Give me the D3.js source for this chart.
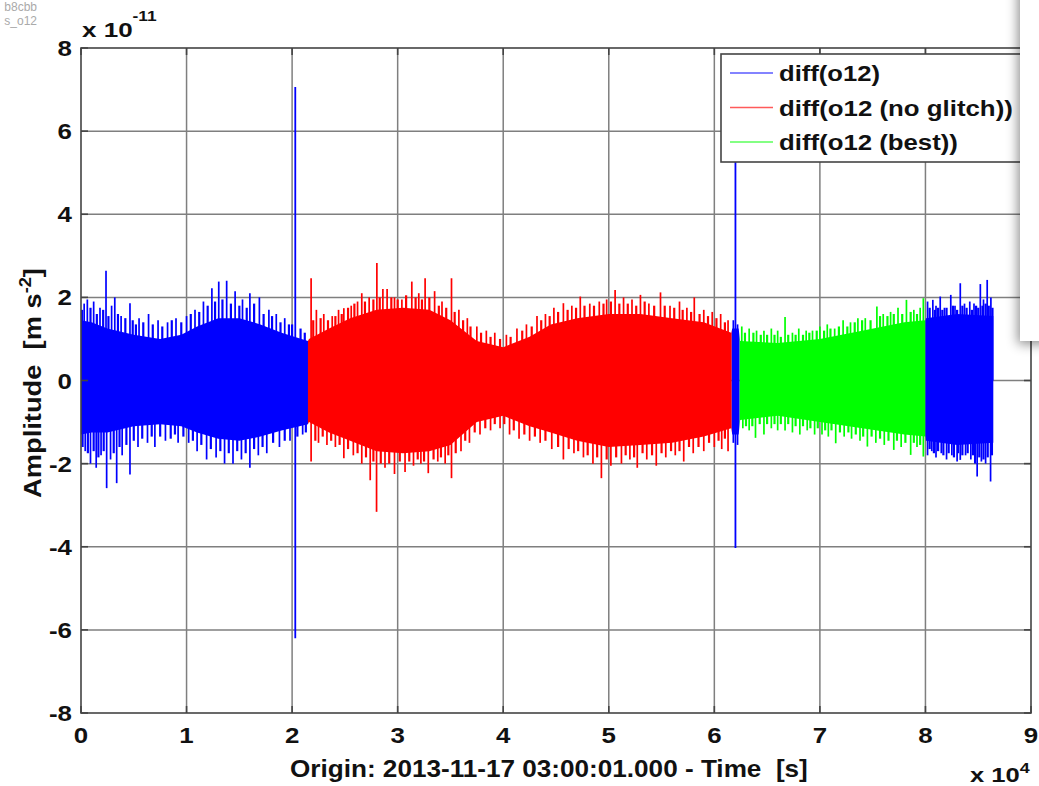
<!DOCTYPE html>
<html>
<head>
<meta charset="utf-8">
<script src="https://cdn.jsdelivr.net/npm/d3@7"></script>
<style>
  body { margin: 0; background: #fff; }
  text { font-family: "Liberation Sans", Arial, sans-serif; white-space: pre; }
</style>
</head>
<body>
<div id="chart"></div>
<script>
// series shown in the legend
const seriesNames = ["diff(o12)", "diff(o12 (no glitch))", "diff(o12 (best))"];

// which series is drawn over each time span [s]
const spanStart = [0, 21500, 61650, 62400, 80000];
const spanEnd = [21500, 61650, 62400, 80000, 86450];
const spanSeries = [0, 1, 0, 2, 0];

// dense body of the noise (units of 1e-11 m s^-2)
const envTime = [0, 1000, 2500, 5000, 7500, 9500, 11000, 13000, 15000, 17000, 19000, 21500,
  21600, 23500, 25500, 28000, 30500, 33000, 35000, 37500, 40000, 42500, 44500, 47000, 50000,
  53000, 56000, 59000, 61600, 61700, 62300, 62450, 66000, 70000, 74000, 78000, 80000,
  80050, 83000, 86450];
const envHi = [1.45, 1.4, 1.25, 1.1, 1.0, 1.1, 1.3, 1.5, 1.5, 1.35, 1.15, 0.95,
  1.0, 1.25, 1.5, 1.7, 1.75, 1.7, 1.45, 0.95, 0.8, 1.05, 1.35, 1.5, 1.6,
  1.6, 1.5, 1.4, 1.15, 1.25, 1.25, 0.95, 0.9, 1.0, 1.2, 1.4, 1.45,
  1.5, 1.6, 1.55];
const envLo = [-1.3, -1.25, -1.25, -1.1, -1.05, -1.1, -1.25, -1.4, -1.45, -1.35, -1.2, -1.05,
  -1.0, -1.25, -1.45, -1.7, -1.75, -1.7, -1.55, -1.0, -0.85, -1.1, -1.25, -1.45, -1.6,
  -1.55, -1.5, -1.35, -1.15, -1.3, -1.3, -0.95, -0.85, -1.0, -1.15, -1.3, -1.35,
  -1.45, -1.55, -1.5];

// tallest single samples sticking out of the body: [time, value]
const spikesUp = [
  [300, 1.85], [600, 1.95], [1200, 1.9], [1800, 1.75], [2370, 2.64], [2900, 1.8], [3200, 2.0],
  [3800, 1.55], [4640, 1.86], [5500, 1.5], [6400, 1.6], [7300, 1.45], [8200, 1.4], [9000, 1.5],
  [10000, 1.55], [10800, 1.7], [11600, 1.9], [12400, 2.22], [13050, 2.38], [13800, 2.4],
  [14600, 2.15], [15300, 1.95], [16000, 2.1], [16900, 2.0], [17800, 1.7], [18500, 1.6], [19300, 1.5],
  [21800, 2.46], [22300, 1.7], [23000, 1.6], [23800, 1.55], [24400, 1.7], [24900, 1.74],
  [25600, 1.8], [26200, 1.9], [26600, 2.1], [27300, 2.0], [28030, 2.83], [28600, 2.2], [29000, 2.2],
  [29700, 2.0], [30400, 1.95], [31340, 2.38], [32000, 2.1], [32600, 2.46], [33500, 2.15],
  [34200, 1.9], [35100, 2.46], [35800, 1.7], [36600, 1.5], [37500, 1.3], [38400, 1.2], [39200, 1.15],
  [40300, 1.1], [41300, 1.25], [42200, 1.35], [43200, 1.55], [44000, 1.6], [44800, 1.75],
  [45700, 1.86], [46500, 1.8], [47300, 2.02], [48200, 1.85], [49100, 1.9], [49800, 1.95],
  [50600, 2.18], [51400, 2.0], [52200, 1.95], [53000, 2.06], [53800, 1.85], [54900, 2.12],
  [55800, 1.8], [56700, 1.9], [57400, 1.75], [58100, 2.0], [59000, 1.7], [59800, 1.65],
  [60600, 1.6], [61300, 1.45], [61800, 1.45], [62200, 1.35],
  [62600, 1.3], [63300, 1.25], [64000, 1.2], [64700, 1.2], [65400, 1.25], [66000, 1.2],
  [66700, 1.53], [67400, 1.15], [68000, 1.25], [68700, 1.2], [69300, 1.2], [70000, 1.3],
  [70700, 1.35], [71400, 1.25], [72200, 1.45], [72900, 1.4], [73600, 1.5], [74300, 1.5],
  [75400, 1.78], [76000, 1.6], [76700, 1.65], [77400, 1.75], [78200, 1.94], [78900, 1.7],
  [79500, 1.75], [79800, 1.98],
  [80200, 1.9], [80700, 1.94], [81000, 1.8], [81400, 2.02], [81800, 1.75], [82400, 2.06],
  [82800, 1.8], [83300, 2.34], [83700, 1.85], [84200, 1.9], [84600, 1.85], [85200, 2.32],
  [85500, 1.95], [85850, 2.42], [86200, 2.0]
];
const spikesDown = [
  [400, -1.7], [900, -2.0], [1440, -2.1], [1900, -1.8], [2430, -2.59], [2800, -1.9], [3380, -2.47],
  [3900, -1.8], [4640, -2.26], [5400, -1.6], [6300, -1.5], [7000, -1.6], [8000, -1.45],
  [9200, -1.5], [10200, -1.5], [11000, -1.7], [11900, -1.9], [12800, -1.85], [13600, -2.0],
  [14400, -2.0], [15200, -1.9], [16000, -2.1], [16800, -1.8], [17600, -1.75], [18800, -1.6],
  [19800, -1.45], [21000, -1.3],
  [21800, -1.95], [22500, -1.5], [23300, -1.55], [24100, -1.6], [24900, -1.87], [25800, -1.8],
  [26600, -2.0], [27400, -2.4], [28000, -3.16], [28800, -2.1], [29700, -2.25], [30700, -2.2],
  [31500, -2.05], [32200, -2.0], [32900, -2.23], [33800, -1.95], [34500, -2.0], [35100, -2.35],
  [36000, -1.7], [36800, -1.5], [37800, -1.3], [38800, -1.2], [39700, -1.15], [40600, -1.3],
  [41500, -1.4], [42500, -1.45], [43500, -1.5], [44600, -1.65], [45700, -1.9], [46700, -1.75],
  [47600, -1.85], [48500, -2.0], [49300, -2.35], [50200, -2.05], [51200, -2.0], [52000, -1.9],
  [52700, -2.1], [53600, -1.9], [54500, -2.05], [55400, -1.85], [56300, -1.8], [57100, -1.95],
  [58000, -1.75], [59000, -1.7], [60000, -1.6], [60700, -1.65], [61300, -1.7],
  [61800, -1.5], [62200, -1.55],
  [62700, -1.15], [63300, -1.2], [63900, -1.38], [64700, -1.3], [65400, -1.15], [66000, -1.2],
  [66700, -1.2], [67400, -1.25], [68100, -1.3], [68800, -1.2], [69500, -1.3], [70200, -1.3],
  [70800, -1.35], [71500, -1.51], [72300, -1.35], [73000, -1.4], [73800, -1.45], [74500, -1.59],
  [75300, -1.5], [76100, -1.55], [77000, -1.67], [77700, -1.6], [78600, -1.79], [79200, -1.6],
  [79800, -1.83],
  [80200, -1.8], [80600, -1.7], [81000, -1.85], [81500, -1.75], [82000, -1.9], [82500, -1.8],
  [83000, -1.95], [83300, -1.91], [83800, -1.8], [84300, -1.9], [84900, -2.31], [85300, -1.95],
  [85700, -2.0], [86170, -2.43]
];

// shorter samples that make the ragged edge of the body: [time, value]
const minorUp = [
  [100, 1.7], [900, 1.75], [1500, 1.6], [2100, 1.7], [2600, 1.55], [3500, 1.6], [4200, 1.5],
  [4900, 1.45], [5200, 1.35], [5900, 1.4], [6800, 1.35], [7700, 1.3], [8600, 1.45], [9500, 1.4],
  [10400, 1.6], [11200, 1.65], [12000, 1.8], [12700, 1.9], [13400, 1.95], [14200, 1.85],
  [15000, 1.8], [15700, 1.75], [16400, 1.85], [17300, 1.6], [18100, 1.55], [18900, 1.4],
  [19700, 1.35], [20000, 1.35], [20800, 1.25], [21200, 1.15],
  [22000, 1.45], [22700, 1.5], [23400, 1.45], [24100, 1.55], [24700, 1.6], [25300, 1.75],
  [25900, 1.85], [26900, 1.9], [27700, 1.95], [28300, 2.0], [29400, 2.0], [30000, 1.95],
  [30800, 2.05], [31700, 2.0], [32300, 1.95], [33000, 2.0], [33900, 1.8], [34600, 1.75],
  [35400, 1.65], [36200, 1.45], [36900, 1.3], [37900, 1.15], [38800, 1.05], [39700, 1.0],
  [40700, 1.05], [41800, 1.2], [42700, 1.3], [43600, 1.45], [44400, 1.55], [45200, 1.65],
  [46100, 1.7], [46900, 1.75], [47700, 1.8], [48600, 1.8], [49500, 1.85], [50200, 1.9],
  [51000, 1.85], [51800, 1.85], [52600, 1.8], [53400, 1.9], [54300, 1.8], [55300, 1.8],
  [56200, 1.75], [57000, 1.7], [57800, 1.65], [58600, 1.6], [59400, 1.55], [60200, 1.5],
  [61000, 1.4],
  [62900, 1.15], [63700, 1.15], [64400, 1.1], [65000, 1.1], [65700, 1.1], [66300, 1.05],
  [67000, 1.1], [67700, 1.1], [68400, 1.1], [69000, 1.15], [69700, 1.2], [70400, 1.2],
  [71000, 1.25], [71800, 1.3], [72600, 1.3], [73300, 1.4], [74000, 1.45], [74800, 1.45],
  [75700, 1.55], [76400, 1.55], [77000, 1.6], [77800, 1.6], [78600, 1.65], [79200, 1.6],
  [80400, 1.75], [80900, 1.7], [81200, 1.75], [81600, 1.7], [82000, 1.75], [82600, 1.8],
  [83000, 1.7], [83500, 1.8], [83900, 1.75], [84400, 1.7], [84800, 1.8], [85000, 1.75],
  [85400, 1.8], [85700, 1.85], [86000, 1.8], [86350, 1.75]
];
const minorDown = [
  [150, -1.6], [650, -1.75], [1200, -1.7], [1650, -1.85], [2150, -1.7], [3100, -1.75],
  [3650, -1.6], [4300, -1.55], [5000, -1.45], [5800, -1.4], [6700, -1.35], [7500, -1.35],
  [8500, -1.4], [8900, -1.3], [9700, -1.35], [10600, -1.45], [11400, -1.55], [12300, -1.65],
  [13200, -1.7], [14000, -1.75], [14800, -1.7], [15600, -1.75], [16400, -1.65], [17200, -1.6],
  [18200, -1.5], [19300, -1.45], [20500, -1.35], [21300, -1.25],
  [22200, -1.45], [22900, -1.35], [23700, -1.45], [24500, -1.55], [25300, -1.65], [26200, -1.75],
  [27000, -1.85], [27700, -1.95], [28400, -2.0], [29200, -2.0], [30200, -1.95], [31100, -1.95],
  [31900, -1.9], [32500, -1.95], [33400, -1.9], [34100, -1.85], [34800, -1.8], [35500, -1.75],
  [36400, -1.45], [37300, -1.25], [38300, -1.15], [39200, -1.05], [40100, -1.05], [41000, -1.2],
  [42000, -1.3], [43000, -1.35], [44000, -1.45], [45200, -1.6], [46200, -1.65], [47100, -1.7],
  [48000, -1.8], [48900, -1.85], [49800, -1.9], [50700, -1.85], [51600, -1.8], [52400, -1.85],
  [53200, -1.75], [54100, -1.8], [55000, -1.75], [55900, -1.7], [56700, -1.7], [57600, -1.6],
  [58500, -1.6], [59500, -1.5], [60400, -1.45], [61000, -1.4],
  [63000, -1.1], [63600, -1.1], [64300, -1.05], [65000, -1.05], [65700, -1.05], [66300, -1.05],
  [67000, -1.05], [67700, -1.1], [68400, -1.1], [69100, -1.15], [69800, -1.15], [70500, -1.2],
  [71100, -1.2], [71900, -1.25], [72700, -1.25], [73400, -1.3], [74100, -1.35], [74900, -1.35],
  [75700, -1.4], [76500, -1.45], [77300, -1.45], [78100, -1.5], [78900, -1.5], [79500, -1.55],
  [80400, -1.65], [80800, -1.75], [81200, -1.7], [81700, -1.8], [82200, -1.75], [82700, -1.85],
  [83100, -1.75], [83500, -1.8], [84000, -1.75], [84500, -1.8], [84700, -2.0], [85100, -1.85],
  [85500, -1.9], [85900, -1.85], [86300, -1.8]
];

// the two glitches in diff(o12)
const glitchTime = [20300, 62000];
const glitchHi = [7.06, 5.8];
const glitchLo = [-6.2, -4.03];

const xTicks = [0, 10000, 20000, 30000, 40000, 50000, 60000, 70000, 80000, 90000];
const yTicks = [-8, -6, -4, -2, 0, 2, 4, 6, 8];

const colors = ["#0000ff", "#ff0000", "#00ff00"];
const legendColors = ["#5a5aff", "#ff5a5a", "#5aff5a"];
const ink = "#111";

const W = 1039, H = 786;
const plot = { left: 81, right: 1031, top: 48, bottom: 713 };

const svg = d3.select("#chart").append("svg")
    .attr("width", W)
    .attr("height", H);

const x = d3.scaleLinear().domain([0, 90000]).range([plot.left, plot.right]);
const y = d3.scaleLinear().domain([-8, 8]).range([plot.bottom, plot.top]);

// squeeze or stretch a text horizontally so it spans the width seen in the picture
const fitWidth = (sel, width, tx, ty, rot) => {
    const w = sel.node().getBBox().width;
    sel.attr("transform", `translate(${tx},${ty})` + (rot ? ` rotate(${rot})` : "") + ` scale(${width / w},1)`);
};

// grid
const grid = svg.append("g");
grid.selectAll(".gx").data(xTicks.slice(1, -1)).join("line")
    .attr("x1", d => x(d)).attr("x2", d => x(d))
    .attr("y1", plot.top).attr("y2", plot.bottom)
    .attr("stroke", "#7f7f7f").attr("stroke-width", 1.5);
grid.selectAll(".gy").data(yTicks.slice(1, -1)).join("line")
    .attr("x1", plot.left).attr("x2", plot.right)
    .attr("y1", d => y(d)).attr("y2", d => y(d))
    .attr("stroke", "#7f7f7f").attr("stroke-width", 1.5);

// signal
const defs = svg.append("defs");
const data = svg.append("g");
const env = envTime.map((t, i) => ({ t, hi: envHi[i], lo: envLo[i] }));
const area = d3.area().x(d => x(d.t)).y0(d => y(d.lo)).y1(d => y(d.hi));

const spanOf = t => spanStart.findIndex((s, i) => t >= s && t < spanEnd[i]);

spanStart.forEach((s, i) => {
    defs.append("clipPath").attr("id", "span" + i)
        .append("rect")
        .attr("x", x(s)).attr("width", x(spanEnd[i]) - x(s))
        .attr("y", 0).attr("height", H);
    data.append("path")
        .datum(env)
        .attr("d", area)
        .attr("fill", colors[spanSeries[i]])
        .attr("clip-path", "url(#span" + i + ")");
});

data.selectAll(".minor").data(minorUp.concat(minorDown)).join("line")
    .attr("x1", d => x(d[0])).attr("x2", d => x(d[0]))
    .attr("y1", y(0)).attr("y2", d => y(d[1]))
    .attr("stroke", d => colors[spanSeries[spanOf(d[0])]])
    .attr("stroke-width", 2.2);

data.selectAll(".spike").data(spikesUp.concat(spikesDown)).join("line")
    .attr("x1", d => x(d[0])).attr("x2", d => x(d[0]))
    .attr("y1", y(0)).attr("y2", d => y(d[1]))
    .attr("stroke", d => colors[spanSeries[spanOf(d[0])]])
    .attr("stroke-width", 1.7);

data.selectAll(".glitch").data(glitchTime).join("line")
    .attr("x1", d => x(d)).attr("x2", d => x(d))
    .attr("y1", (d, i) => y(glitchLo[i])).attr("y2", (d, i) => y(glitchHi[i]))
    .attr("stroke", colors[0])
    .attr("stroke-width", 1.8);

// axes box and ticks on all sides
const axes = svg.append("g");
axes.append("rect")
    .attr("x", plot.left).attr("y", plot.top)
    .attr("width", plot.right - plot.left).attr("height", plot.bottom - plot.top)
    .attr("fill", "none").attr("stroke", "#444").attr("stroke-width", 1.6);

const tl = 7;
xTicks.forEach(t => {
    axes.append("line").attr("x1", x(t)).attr("x2", x(t))
        .attr("y1", plot.bottom).attr("y2", plot.bottom - tl)
        .attr("stroke", "#444").attr("stroke-width", 1.6);
    axes.append("line").attr("x1", x(t)).attr("x2", x(t))
        .attr("y1", plot.top).attr("y2", plot.top + tl)
        .attr("stroke", "#444").attr("stroke-width", 1.6);
});
yTicks.forEach(v => {
    axes.append("line").attr("x1", plot.left).attr("x2", plot.left + tl)
        .attr("y1", y(v)).attr("y2", y(v))
        .attr("stroke", "#444").attr("stroke-width", 1.6);
    axes.append("line").attr("x1", plot.right).attr("x2", plot.right - tl)
        .attr("y1", y(v)).attr("y2", y(v))
        .attr("stroke", "#444").attr("stroke-width", 1.6);
});

axes.selectAll(".xl").data(xTicks).join("text")
    .attr("transform", d => `translate(${x(d)},${plot.bottom + 30}) scale(1.15,1)`)
    .attr("text-anchor", "middle")
    .attr("font-size", 22.5).attr("font-weight", "bold").attr("fill", ink)
    .text(d => d / 1e4);
axes.selectAll(".yl").data(yTicks).join("text")
    .attr("transform", d => `translate(72,${y(d) + 8}) scale(1.15,1)`)
    .attr("text-anchor", "end")
    .attr("font-size", 22.5).attr("font-weight", "bold").attr("fill", ink)
    .text(d => d);

// exponents
const yExp = svg.append("text")
    .attr("font-size", 21).attr("font-weight", "bold").attr("fill", ink);
yExp.append("tspan").text("x 10");
yExp.append("tspan").attr("dy", -16).attr("font-size", 14).text("-11");
fitWidth(yExp, 75, 82, 37);

const xExp = svg.append("text")
    .attr("font-size", 20).attr("font-weight", "bold").attr("fill", ink);
xExp.append("tspan").text("x 10");
xExp.append("tspan").attr("dy", -9).attr("font-size", 14).text("4");
fitWidth(xExp, 60, 970, 782);

// axis labels
const xl = svg.append("text")
    .attr("font-size", 24).attr("font-weight", "bold").attr("fill", ink)
    .text("Origin: 2013-11-17 03:00:01.000 - Time  [s]");
fitWidth(xl, 518, 290, 777);

const yl = svg.append("text")
    .attr("text-anchor", "middle")
    .attr("font-size", 24).attr("font-weight", "bold").attr("fill", ink);
yl.append("tspan").text("Amplitude  [m s");
yl.append("tspan").attr("dy", -10).attr("font-size", 16).text("-2");
yl.append("tspan").attr("dy", 10).text("]");
fitWidth(yl, 230, 41, 383, -90);

// legend
const legendWidths = [101, 234, 179];
const lg = svg.append("g");
lg.append("rect")
    .attr("x", 721).attr("y", 54).attr("width", 320).attr("height", 108)
    .attr("fill", "#fff").attr("stroke", "#444").attr("stroke-width", 1.6);
seriesNames.forEach((name, i) => {
    const cy = 73 + i * 34.5;
    lg.append("line").attr("x1", 730).attr("x2", 773)
        .attr("y1", cy).attr("y2", cy)
        .attr("stroke", legendColors[i]).attr("stroke-width", 1.5);
    const t = lg.append("text")
        .attr("font-size", 22).attr("font-weight", "bold").attr("fill", ink)
        .text(name);
    fitWidth(t, legendWidths[i], 779, cy + 8);
});

// window file names peeking in at the top left
svg.append("text").attr("x", 37).attr("y", 11).attr("text-anchor", "end")
    .attr("font-size", 12).attr("fill", "#aaa").text("b8cbb");
svg.append("text").attr("x", 37).attr("y", 25).attr("text-anchor", "end")
    .attr("font-size", 12).attr("fill", "#aaa").text("s_o12");

// overlapping window on the right edge
const shadow = defs.append("filter").attr("id", "shadow")
    .attr("x", "-50%").attr("y", "-20%").attr("width", "200%").attr("height", "140%");
shadow.append("feDropShadow")
    .attr("dx", -2).attr("dy", 3).attr("stdDeviation", 6)
    .attr("flood-color", "#000").attr("flood-opacity", 0.45);
svg.append("rect")
    .attr("x", 1020).attr("y", -20).attr("width", 60).attr("height", 361)
    .attr("fill", "#fff").attr("filter", "url(#shadow)");
</script>
</body>
</html>
